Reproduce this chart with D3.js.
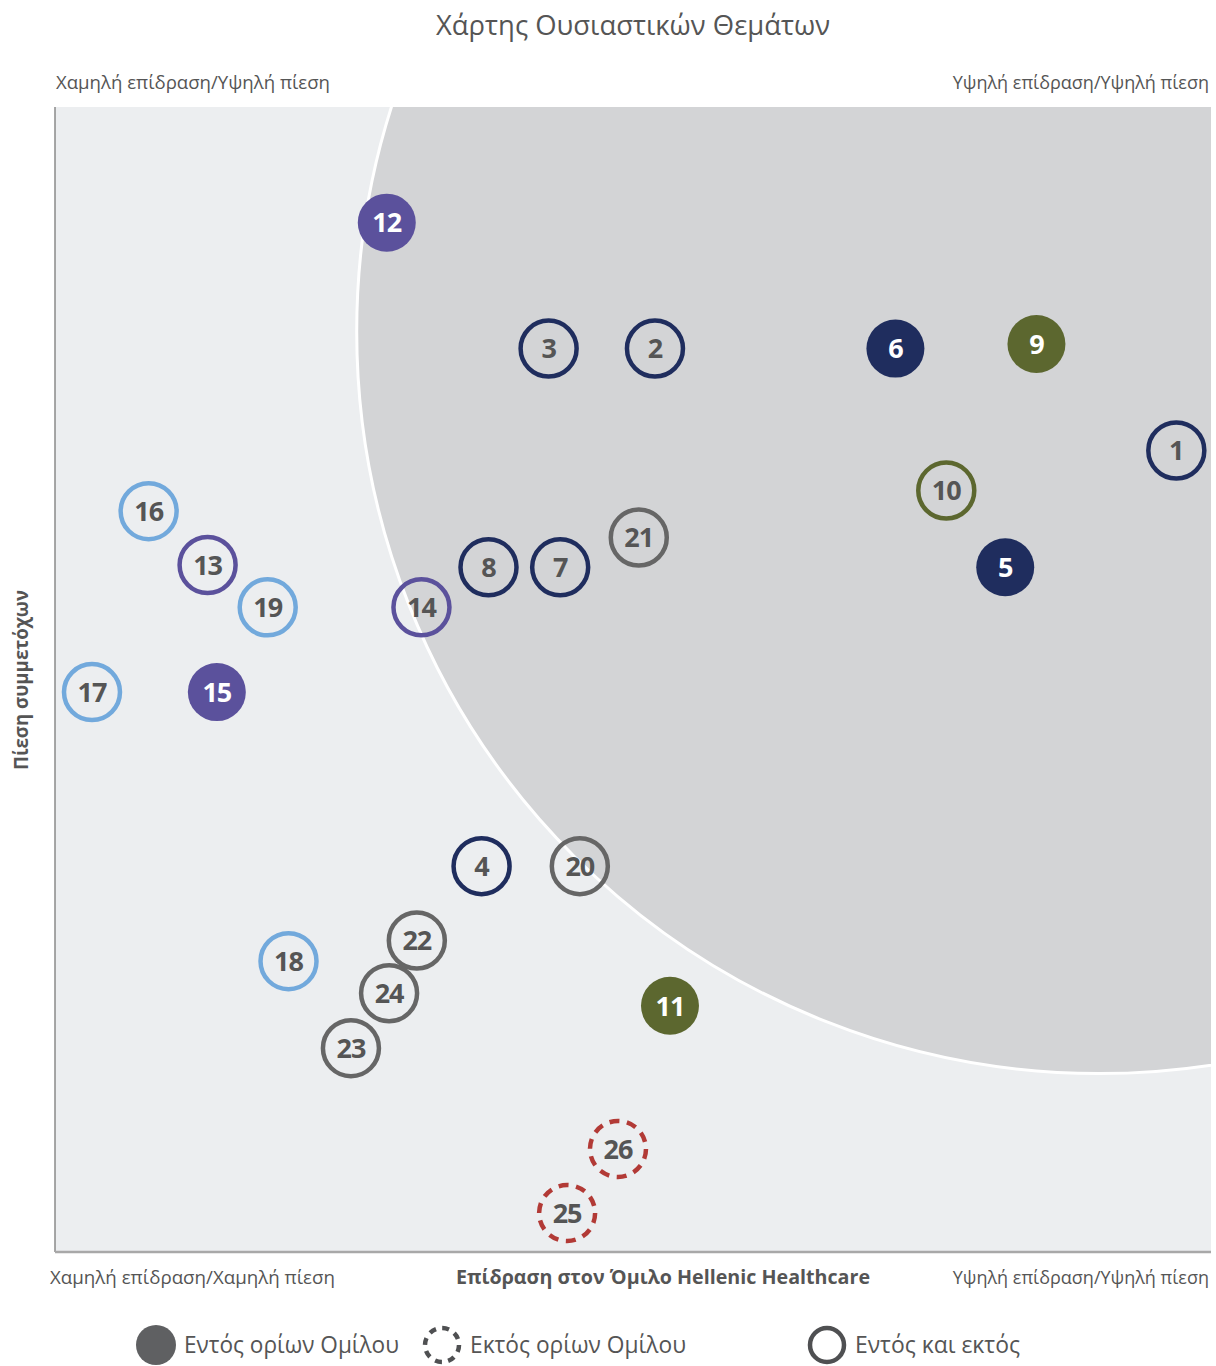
<!DOCTYPE html>
<html>
<head>
<meta charset="utf-8">
<script src="https://cdn.jsdelivr.net/npm/d3@7"></script>
<style>
  body { margin: 0; background: #fff; }
  svg text { font-family: "Open Sans", "Noto Sans", sans-serif; }
</style>
</head>
<body>
<svg id="chart"></svg>
<script>
// Topic ids, positions (impact, stakeholder pressure on a 0-10 grid) and style groups
const ids = [1, 2, 3, 4, 5, 6, 7, 8, 9, 10, 11, 12, 13, 14, 15, 16, 17, 18, 19, 20, 21, 22, 23, 24, 25, 26];
const impact = [9.70, 5.19, 4.27, 3.69, 8.22, 7.27, 4.37, 3.75, 8.49, 7.71, 5.32, 2.87, 1.32, 3.17, 1.40, 0.81, 0.32, 2.02, 1.84, 4.54, 5.05, 3.13, 2.56, 2.89, 4.43, 4.87];
const pressure = [7.00, 7.89, 7.89, 3.37, 5.98, 7.89, 5.98, 5.98, 7.93, 6.65, 2.15, 8.99, 6.00, 5.63, 4.89, 6.47, 4.89, 2.54, 5.63, 3.37, 6.24, 2.72, 1.78, 2.26, 0.34, 0.90];
const groups = ["navy", "navy", "navy", "navy", "navy", "navy", "navy", "navy", "olive", "olive", "olive", "purple", "purple", "purple", "purple", "blue", "blue", "blue", "blue", "gray", "gray", "gray", "gray", "gray", "red", "red"];
// boundary: "in" = filled, "both" = outline, "out" = dashed
const kinds = ["both", "both", "both", "both", "in", "in", "both", "both", "in", "both", "in", "in", "both", "both", "in", "both", "both", "both", "both", "both", "both", "both", "both", "both", "out", "out"];

const colors = { navy: "#1f2d5e", olive: "#5c672f", purple: "#5b519c", blue: "#72a9dc", gray: "#666666", red: "#b23a36" };

// materiality zone (big circle) in data units
const zone = { cx: 9.03, cy: 8.04, r: 6.42 };

const title = "Χάρτης Ουσιαστικών Θεμάτων";
const xTitle = "Επίδραση στον Όμιλο Hellenic Healthcare";
const yTitle = "Πίεση συμμετόχων";
const cornerLabels = ["Χαμηλή επίδραση/Υψηλή πίεση", "Υψηλή επίδραση/Υψηλή πίεση", "Χαμηλή επίδραση/Χαμηλή πίεση", "Υψηλή επίδραση/Υψηλή πίεση"];
const legendLabels = ["Εντός ορίων Ομίλου", "Εκτός ορίων Ομίλου", "Εντός και εκτός"];

const width = 1216, height = 1366;
const plot = { left: 55, right: 1211, top: 107, bottom: 1252 };

const svg = d3.select("#chart").attr("width", width).attr("height", height);

const x = d3.scaleLinear().domain([0, 10]).range([plot.left, plot.right]);
const y = d3.scaleLinear().domain([0, 10]).range([plot.bottom, plot.top]);

// background and clip
svg.append("defs").append("clipPath").attr("id", "plotClip")
  .append("rect")
  .attr("x", plot.left).attr("y", plot.top)
  .attr("width", plot.right - plot.left).attr("height", plot.bottom - plot.top);

svg.append("rect")
  .attr("x", plot.left).attr("y", plot.top)
  .attr("width", plot.right - plot.left).attr("height", plot.bottom - plot.top)
  .attr("fill", "#eceef0");

svg.append("circle")
  .attr("clip-path", "url(#plotClip)")
  .attr("cx", x(zone.cx)).attr("cy", y(zone.cy))
  .attr("r", x(zone.cx + zone.r) - x(zone.cx))
  .attr("fill", "#d3d4d6")
  .attr("stroke", "#fff")
  .attr("stroke-width", 3);

// axis lines
svg.append("line")
  .attr("x1", plot.left).attr("x2", plot.left)
  .attr("y1", plot.top).attr("y2", plot.bottom)
  .attr("stroke", "#8a8a8a").attr("stroke-width", 1.5);
svg.append("line")
  .attr("x1", plot.left).attr("x2", plot.right)
  .attr("y1", plot.bottom).attr("y2", plot.bottom)
  .attr("stroke", "#a8a8a8").attr("stroke-width", 2.5);

// title + labels
svg.append("text")
  .attr("x", 633).attr("y", 35)
  .attr("text-anchor", "middle")
  .attr("font-size", 27).attr("fill", "#555")
  .attr("textLength", 394).attr("lengthAdjust", "spacingAndGlyphs")
  .text(title);

// left labels squeezed to the reference width, right labels plain and end-anchored
const cornerPos = [
  { x: 56, y: 89, w: 274, anchor: "start" },
  { x: 1209, y: 89, w: null, anchor: "end" },
  { x: 50, y: 1284, w: 285, anchor: "start" },
  { x: 1209, y: 1284, w: null, anchor: "end" }
];
svg.selectAll(".corner")
  .data(cornerLabels)
  .join("text")
  .attr("class", "corner")
  .attr("x", (d, i) => cornerPos[i].x)
  .attr("y", (d, i) => cornerPos[i].y)
  .attr("text-anchor", (d, i) => cornerPos[i].anchor)
  .attr("font-size", (d, i) => cornerPos[i].w ? 19 : 18)
  .attr("fill", "#555")
  .attr("textLength", (d, i) => cornerPos[i].w)
  .attr("lengthAdjust", (d, i) => cornerPos[i].w ? "spacingAndGlyphs" : null)
  .text(d => d);

svg.append("text")
  .attr("x", 456).attr("y", 1284)
  .attr("font-size", 19).attr("font-weight", "bold").attr("fill", "#555")
  .attr("textLength", 414).attr("lengthAdjust", "spacingAndGlyphs")
  .text(xTitle);

svg.append("text")
  .attr("transform", "translate(28,680) rotate(-90)")
  .attr("text-anchor", "middle")
  .attr("font-size", 19).attr("font-weight", "bold").attr("fill", "#555")
  .attr("textLength", 180).attr("lengthAdjust", "spacingAndGlyphs")
  .text(yTitle);

// points
const topics = ids.map((id, i) => ({ id, x: impact[i], y: pressure[i], group: groups[i], kind: kinds[i] }));

const pts = svg.append("g").selectAll("g")
  .data(topics)
  .join("g")
  .attr("transform", d => `translate(${x(d.x)},${y(d.y)})`);

pts.append("circle")
  .attr("r", d => d.kind === "in" ? 29 : 28)
  .attr("fill", d => d.kind === "in" ? colors[d.group] : "none")
  .attr("stroke", d => d.kind === "in" ? "none" : colors[d.group])
  .attr("stroke-width", 4.5)
  .attr("stroke-dasharray", d => d.kind === "out" ? "10,7.6" : null);

pts.append("text")
  .attr("text-anchor", "middle")
  .attr("dy", "0.36em")
  .attr("font-size", 27).attr("font-weight", "bold")
  .attr("letter-spacing", -1)
  .attr("fill", d => d.kind === "in" ? "#fff" : "#555")
  .text(d => d.id);

// legend
const legendPos = [{ cx: 156, tx: 184, w: 215 }, { cx: 442, tx: 470, w: 216 }, { cx: 827, tx: 855, w: 165 }];
const legend = svg.append("g").selectAll("g")
  .data(legendLabels)
  .join("g")
  .attr("transform", "translate(0,1345)");

legend.append("circle")
  .attr("cx", (d, i) => legendPos[i].cx)
  .attr("r", (d, i) => i === 0 ? 20 : 17)
  .attr("fill", (d, i) => i === 0 ? "#5f6062" : "none")
  .attr("stroke", (d, i) => i === 0 ? "none" : "#4f5052")
  .attr("stroke-width", 4.5)
  .attr("stroke-dasharray", (d, i) => i === 1 ? "7,6.3" : null);

legend.append("text")
  .attr("x", (d, i) => legendPos[i].tx)
  .attr("dy", "0.35em")
  .attr("font-size", 24).attr("fill", "#555")
  .attr("textLength", (d, i) => legendPos[i].w)
  .attr("lengthAdjust", "spacingAndGlyphs")
  .text(d => d);
</script>
</body>
</html>
